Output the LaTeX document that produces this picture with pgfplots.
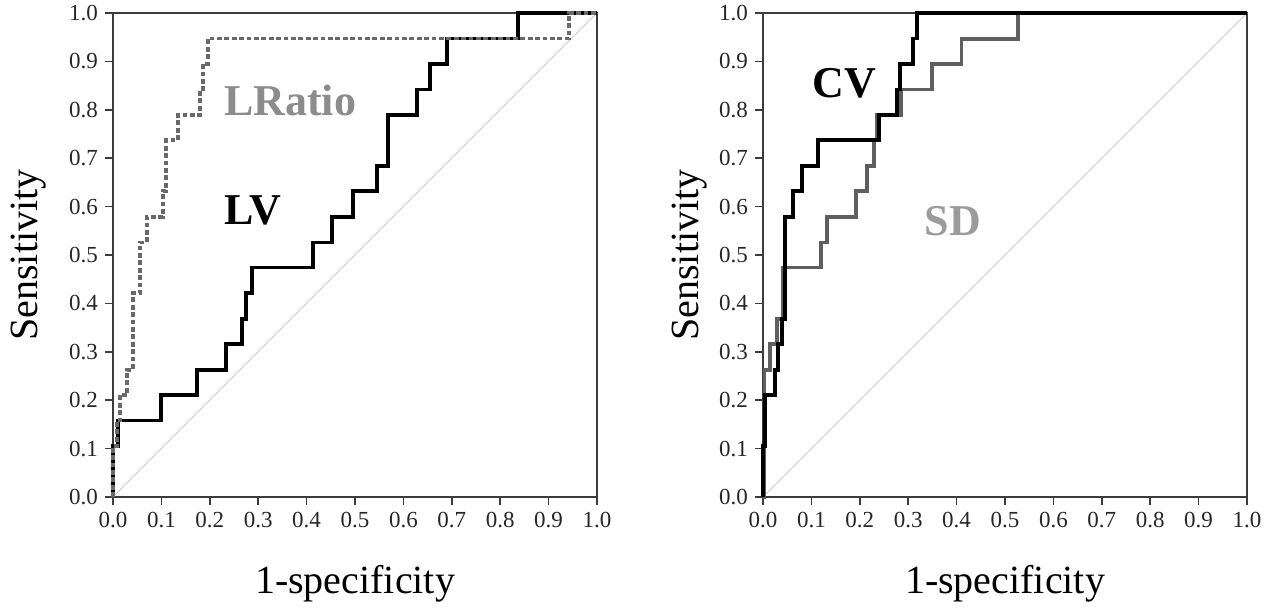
\documentclass[border=0pt]{standalone}
\usepackage{fontspec}
\setmainfont{Liberation Serif}
\usepackage{pgfplots}
\pgfplotsset{compat=1.18}
\definecolor{lrcol}{RGB}{105,105,105}
\definecolor{sdcol}{RGB}{95,95,95}
\definecolor{lrtext}{RGB}{140,140,140}
\definecolor{sdtext}{RGB}{155,155,155}
\definecolor{diag}{RGB}{205,205,205}
\definecolor{axcol}{RGB}{60,60,60}
\pgfplotsset{roc/.style={
  scale only axis, width=242pt, height=242pt,
  xmin=0, xmax=1, ymin=0, ymax=1, clip=false,
  xtick={0,0.1,0.2,0.3,0.4,0.5,0.6,0.7,0.8,0.9,1},
  ytick={0,0.1,0.2,0.3,0.4,0.5,0.6,0.7,0.8,0.9,1},
  tick align=outside, major tick length=4pt, tick pos=left,
  axis line style={axcol, line width=0.75pt},
  tick style={axcol, line width=0.75pt},
  ticklabel style={font=\fontsize{11.5}{13}\selectfont, text=black!85},
  /pgf/number format/fixed, /pgf/number format/fixed zerofill,
  /pgf/number format/precision=1, /pgf/number format/assume math mode=true,
  label style={font=\fontsize{20}{24}\selectfont},
  xlabel={1-specificity},
  ylabel={Sensitivity},
  xlabel style={at={(axis description cs:0.5,-0.2)}, anchor=base},
}}
\begin{document}
\begin{tikzpicture}
\useasboundingbox (0,0) rectangle (634.5pt,303.5pt);
\begin{axis}[roc, at={(56.5pt,55pt)}, anchor=south west,
  ylabel style={at={(axis description cs:-0.155,0.5)}, anchor=base}]
\addplot[draw=diag, line width=0.5pt] coordinates {(0,0) (1,1)};
\addplot[black, line width=1.8pt, line join=miter] coordinates {
(0,0)(0,0.105)(0.01,0.105)(0.01,0.158)(0.099,0.158)(0.099,0.211)(0.173,0.211)(0.173,0.263)
(0.233,0.263)(0.233,0.316)(0.266,0.316)(0.266,0.368)(0.275,0.368)(0.275,0.421)(0.287,0.421)
(0.287,0.474)(0.413,0.474)(0.413,0.526)(0.452,0.526)(0.452,0.579)(0.496,0.579)(0.496,0.632)
(0.545,0.632)(0.545,0.684)(0.568,0.684)(0.568,0.789)(0.628,0.789)(0.628,0.842)(0.655,0.842)
(0.655,0.895)(0.69,0.895)(0.69,0.947)(0.837,0.947)(0.837,1)(1,1)};
\addplot[lrcol, line width=1.8pt, dash pattern=on 2.4pt off 1.3pt] coordinates {
(0,0)(0,0.105)(0.008,0.105)(0.008,0.158)(0.014,0.158)(0.014,0.211)(0.029,0.211)(0.029,0.263)
(0.041,0.263)(0.041,0.421)(0.056,0.421)(0.056,0.526)(0.07,0.526)(0.07,0.579)(0.103,0.579)
(0.103,0.632)(0.11,0.632)(0.11,0.737)(0.134,0.737)(0.134,0.789)(0.18,0.789)(0.18,0.842)
(0.186,0.842)(0.186,0.895)(0.196,0.895)(0.196,0.947)(0.942,0.947)(0.942,1)(1,1)};
\node[anchor=base west, font=\fontsize{22}{26}\selectfont\bfseries, text=lrtext] at (axis cs:0.215,0.789) {LRatio};
\node[anchor=base west, font=\fontsize{22}{26}\selectfont\bfseries, text=black] at (axis cs:0.215,0.562) {LV};
\end{axis}
\begin{axis}[roc, at={(381.5pt,55pt)}, anchor=south west,
  ylabel style={at={(axis description cs:-0.134,0.5)}, anchor=base}]
\addplot[draw=diag, line width=0.5pt] coordinates {(0,0) (1,1)};
\addplot[sdcol, line width=1.9pt, line join=miter] coordinates {
(0,0)(0.003,0)(0.003,0.263)(0.014,0.263)(0.014,0.316)(0.029,0.316)(0.029,0.368)(0.041,0.368)
(0.041,0.474)(0.12,0.474)(0.12,0.526)(0.132,0.526)(0.132,0.579)(0.192,0.579)(0.192,0.632)
(0.215,0.632)(0.215,0.684)(0.229,0.684)(0.229,0.737)(0.235,0.737)(0.235,0.789)(0.285,0.789)
(0.285,0.842)(0.349,0.842)(0.349,0.895)(0.41,0.895)(0.41,0.947)(0.527,0.947)(0.527,1)(1,1)};
\addplot[black, line width=1.8pt, line join=miter] coordinates {
(0,0)(0,0.105)(0.004,0.105)(0.004,0.211)(0.025,0.211)(0.025,0.263)(0.031,0.263)(0.031,0.316)
(0.039,0.316)(0.039,0.368)(0.045,0.368)(0.045,0.579)(0.062,0.579)(0.062,0.632)(0.081,0.632)
(0.081,0.684)(0.114,0.684)(0.114,0.737)(0.24,0.737)(0.24,0.789)(0.277,0.789)(0.277,0.842)
(0.283,0.842)(0.283,0.895)(0.31,0.895)(0.31,0.947)(0.318,0.947)(0.318,1)(1,1)};
\node[anchor=base west, font=\fontsize{22}{26}\selectfont\bfseries, text=black] at (axis cs:0.088,0.826) {CV};
\node[anchor=base west, font=\fontsize{22}{26}\selectfont\bfseries, text=sdtext] at (axis cs:0.32,0.541) {SD};
\end{axis}
\end{tikzpicture}
\end{document}
